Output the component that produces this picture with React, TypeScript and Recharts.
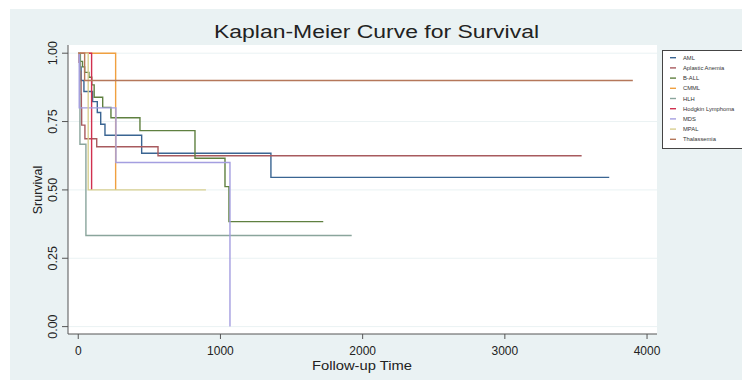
import React from "react";
import { LineChart, Line, XAxis, YAxis, CartesianGrid, Legend } from "recharts";

// ---- data (time in days, survival probability) ----
const amlTime = [0, 10, 20, 40, 101, 134, 158, 188, 446, 1355, 3734];
const amlSurv = [1, 0.95, 0.9, 0.86, 0.823, 0.783, 0.74, 0.7, 0.634, 0.546, 0.546];

const aplasticTime = [0, 6, 12, 17, 20, 22, 24, 47, 130, 561, 3540];
const aplasticSurv = [1, 0.967, 0.933, 0.9, 0.85, 0.8, 0.737, 0.687, 0.658, 0.625, 0.625];

const ballTime = [0, 15, 30, 45, 75, 95, 112, 172, 230, 434, 821, 1032, 1060, 1723];
const ballSurv = [1, 0.97, 0.95, 0.93, 0.912, 0.884, 0.839, 0.802, 0.764, 0.717, 0.616, 0.512, 0.384, 0.384];

const cmmlTime = [0, 263];
const cmmlSurv = [1, 0.5];

const hlhTime = [0, 12, 54, 1923];
const hlhSurv = [1, 0.667, 0.333, 0.333];

const hodgkinTime = [0, 94];
const hodgkinSurv = [1, 0.5];

const mdsTime = [0, 7, 265, 1067];
const mdsSurv = [1, 0.8, 0.6, 0];

const mpalTime = [0, 70, 898];
const mpalSurv = [1, 0.5, 0.5];

const thalTime = [0, 45, 3900];
const thalSurv = [1, 0.9, 0.9];

const groupNames = ["AML", "Aplastic Anemia", "B-ALL", "CMML", "HLH", "Hodgkin Lymphoma", "MDS", "MPAL", "Thalassemia"];
const groupColors = ["#3a6592", "#a85a5e", "#5f8040", "#f0a040", "#8aa59c", "#d0304f", "#a49ee0", "#d8cf90", "#b5775a"];
const groupTimes = [amlTime, aplasticTime, ballTime, cmmlTime, hlhTime, hodgkinTime, mdsTime, mpalTime, thalTime];
const groupSurv = [amlSurv, aplasticSurv, ballSurv, cmmlSurv, hlhSurv, hodgkinSurv, mdsSurv, mpalSurv, thalSurv];

const xTicks = [0, 1000, 2000, 3000, 4000];
const yTicks = [0, 0.25, 0.5, 0.75, 1];

const series = groupNames.map((name, i) => ({
  name,
  color: groupColors[i],
  data: groupTimes[i].map((t, j) => ({ t, s: groupSurv[i][j] })),
}));

const FONT = 'Arial, "Liberation Sans", Helvetica, sans-serif';

const YTick = (props: any) => {
  const { y, payload } = props;
  const x = 47;
  return (
    <text
      x={x}
      y={y}
      transform={`rotate(-90 ${x} ${y})`}
      textAnchor="middle"
      fontSize={12.5}
      fontFamily={FONT}
      fill="#222"
    >
      {Number(payload.value).toFixed(2)}
    </text>
  );
};

const LegendBox = (props: any) => {
  const payload = (props.payload || []) as any[];
  return (
    <div style={{ width: 84, height: 99, background: "#fff", border: "1px solid #444", boxSizing: "border-box" }}>
      <svg width={82} height={97} style={{ display: "block" }}>
        {payload.map((p, i) => {
          const cy = 6.7 + i * 10.2;
          return (
            <g key={p.value}>
              <line x1={7} x2={13} y1={cy} y2={cy} stroke={p.color} strokeWidth={1.4} />
              <text x={20} y={cy + 2} fontSize={5.8} fontFamily={FONT} fill="#333">
                {p.value}
              </text>
            </g>
          );
        })}
      </svg>
    </div>
  );
};

export default function App() {
  return (
    <div
      style={{
        position: "relative",
        left: 2,
        top: 1,
        width: 740,
        height: 372,
        background: "#eaf2f3",
        fontFamily: FONT,
      }}
    >
      <LineChart width={740} height={372} margin={{ top: 36, right: 93, bottom: 17, left: 8 }}>
        <CartesianGrid vertical={false} stroke="#eaf2f3" fill="#ffffff" fillOpacity={1} horizontalValues={yTicks} />
        <XAxis
          type="number"
          dataKey="t"
          domain={[-72, 4070]}
          ticks={xTicks}
          allowDataOverflow
          height={30}
          tickSize={5}
          tickMargin={7}
          stroke="#555"
          tick={{ fontSize: 12, fill: "#222", fontFamily: FONT }}
        />
        <YAxis
          type="number"
          dataKey="s"
          domain={[-0.027, 1.03]}
          ticks={yTicks}
          allowDataOverflow
          width={50}
          tickSize={6}
          stroke="#555"
          tick={<YTick />}
        />
        <Legend
          layout="horizontal"
          verticalAlign="middle"
          align="center"
          wrapperStyle={{ position: "absolute", left: 652, top: 41, width: 84, height: 99 }}
          content={<LegendBox />}
        />
        {series.map((sr) => (
          <Line
            key={sr.name}
            name={sr.name}
            data={sr.data}
            dataKey="s"
            type="stepAfter"
            stroke={sr.color}
            strokeWidth={1.4}
            dot={false}
            activeDot={false}
            isAnimationActive={false}
            legendType="plainline"
          />
        ))}
      </LineChart>
      <svg
        width={740}
        height={372}
        style={{ position: "absolute", left: 0, top: 0, pointerEvents: "none" }}
      >
        <text
          x={366.5}
          y={29}
          textAnchor="middle"
          fontSize={17.5}
          fontFamily={FONT}
          fill="#222"
          textLength={325}
          lengthAdjust="spacingAndGlyphs"
        >
          Kaplan-Meier Curve for Survival
        </text>
        <text
          x={352}
          y={360.5}
          textAnchor="middle"
          fontSize={13}
          fontFamily={FONT}
          fill="#222"
          textLength={100}
          lengthAdjust="spacingAndGlyphs"
        >
          Follow-up Time
        </text>
        <text
          x={31.5}
          y={181}
          transform="rotate(-90 31.5 181)"
          textAnchor="middle"
          fontSize={12.5}
          fontFamily={FONT}
          fill="#222"
        >
          Srurvival
        </text>
      </svg>
    </div>
  );
}
